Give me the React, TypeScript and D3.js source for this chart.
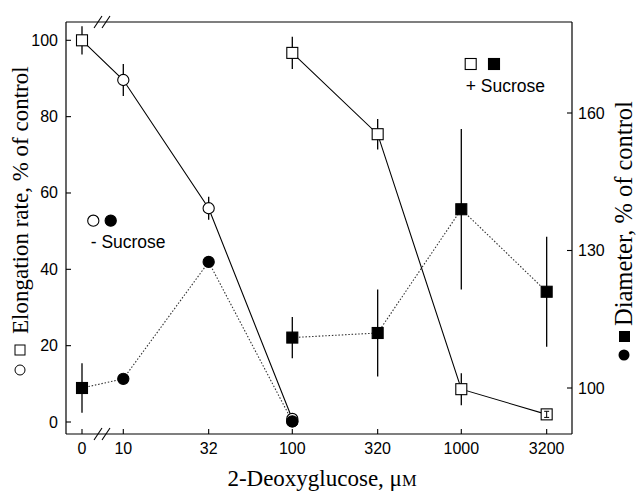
import React from "react";
import * as d3 from "d3";

// ---- data ----
const xTicks = [0, 10, 32, 100, 320, 1000, 3200];
const xTickLabels = ["0", "10", "32", "100", "320", "1000", "3200"];
const leftTicks = [0, 20, 40, 60, 80, 100];
const rightTicks = [100, 130, 160];

// Elongation rate (open symbols, solid line), left axis
const elongMinusX = [0, 10, 32, 100];
const elongMinusY = [100, 89.6, 56, 0.8];
const elongMinusErr = [3.7, 4.2, 3, 0];
const elongMinusShape = ["square", "circle", "circle", "circle"];

const elongPlusX = [100, 320, 1000, 3200];
const elongPlusY = [96.7, 75.4, 8.6, 2];
const elongPlusErr = [4.2, 4, 4.2, 0.8];
const elongPlusShape = ["square", "square", "square", "square"];

// Diameter (filled symbols, dotted line), right axis
const diamMinusX = [0, 10, 32, 100];
const diamMinusY = [100, 102, 127.5, 92.7];
const diamMinusErr = [5.4, 0, 0, 0];
const diamMinusShape = ["square", "circle", "circle", "circle"];

const diamPlusX = [100, 320, 1000, 3200];
const diamPlusY = [111, 112, 139, 121];
const diamPlusErr = [4.5, 9.5, 17.5, 12];
const diamPlusShape = ["square", "square", "square", "square"];

// ---- layout ----
const W = 637, H = 493;
const L = 66, R = 572, T = 22, B = 434;
const zeroX = 82;
const xLog = d3.scaleLog().domain([10, 100]).range([123.3, 292.3]);
const xPos = (v: number) => (v === 0 ? zeroX : xLog(v));
const yL = d3.scaleLinear().domain([0, 100]).range([422, 40.3]);
const yR = d3.scaleLinear().domain([100, 160]).range([388, 113]);

const sans = "'Liberation Sans', Arial, sans-serif";
const serif = "'Liberation Serif', 'Times New Roman', serif";
const SQ = 11;

function Marker({ shape, x, y, filled }: { shape: string; x: number; y: number; filled: boolean }) {
  const fill = filled ? "#000" : "#fff";
  if (shape === "square") {
    return <rect x={x - SQ / 2} y={y - SQ / 2} width={SQ} height={SQ} fill={fill} stroke="#000" strokeWidth={1.1} />;
  }
  return <circle cx={x} cy={y} r={5.6} fill={fill} stroke="#000" strokeWidth={1.1} />;
}

function Series({ xs, ys, errs, shapes, y, filled, dotted }: any) {
  const line = d3
    .line<number>()
    .x((_, i) => xPos(xs[i]))
    .y((d) => y(d));
  return (
    <g>
      <path
        d={line(ys) || ""}
        fill="none"
        stroke={dotted ? "#333" : "#000"}
        strokeWidth={1.1}
        strokeDasharray={dotted ? "1.5,1.8" : undefined}
      />
      {ys.map((v: number, i: number) =>
        errs[i] > 0 ? (
          <line key={"e" + i} x1={xPos(xs[i])} x2={xPos(xs[i])} y1={y(v - errs[i])} y2={y(v + errs[i])} stroke="#000" strokeWidth={1.3} />
        ) : null
      )}
      {ys.map((v: number, i: number) => (
        <Marker key={"m" + i} shape={shapes[i]} x={xPos(xs[i])} y={y(v)} filled={filled} />
      ))}
      {/* error bars shorter than the marker show inside it, with caps */}
      {ys.map((v: number, i: number) => {
        if (!(errs[i] > 0) || filled) return null;
        const y1 = y(v - errs[i]);
        const y2 = y(v + errs[i]);
        if (Math.abs(y1 - y2) / 2 >= SQ / 2) return null;
        const cx = xPos(xs[i]);
        return (
          <g key={"c" + i} stroke="#000" strokeWidth={1}>
            <line x1={cx} x2={cx} y1={y1} y2={y2} />
            <line x1={cx - 2.5} x2={cx + 2.5} y1={y1} y2={y1} />
            <line x1={cx - 2.5} x2={cx + 2.5} y1={y2} y2={y2} />
          </g>
        );
      })}
    </g>
  );
}

function BreakMark({ cx, cy }: { cx: number; cy: number }) {
  return (
    <g stroke="#000" strokeWidth={1.1}>
      <line x1={cx - 8} y1={cy + 6} x2={cx} y2={cy - 6} />
      <line x1={cx} y1={cy + 6} x2={cx + 8} y2={cy - 6} />
    </g>
  );
}

export default function App() {
  return (
    <svg width={W} height={H} style={{ position: "absolute", left: 0, top: 0, background: "#fff" }}>
      <rect width={W} height={H} fill="#fff" />
      {/* frame */}
      <g stroke="#000" strokeWidth={1.2} fill="none">
        <line x1={L} x2={R} y1={T} y2={T} />
        <line x1={L} x2={R} y1={B} y2={B} />
        <line x1={L} x2={L} y1={T} y2={B} />
        <line x1={R} x2={R} y1={T} y2={B} />
      </g>
      <BreakMark cx={102} cy={T} />
      <BreakMark cx={102} cy={B} />

      {/* left ticks */}
      {leftTicks.map((t) => (
        <g key={"l" + t}>
          <line x1={L} x2={L + 5} y1={yL(t)} y2={yL(t)} stroke="#000" strokeWidth={1.1} />
          <text x={L - 8} y={yL(t) + 5.5} textAnchor="end" fontFamily={sans} fontSize={16}>
            {t}
          </text>
        </g>
      ))}
      {/* right ticks */}
      {rightTicks.map((t) => (
        <g key={"r" + t}>
          <line x1={R - 5} x2={R} y1={yR(t)} y2={yR(t)} stroke="#000" strokeWidth={1.1} />
          <text x={R + 6} y={yR(t) + 5.5} textAnchor="start" fontFamily={sans} fontSize={16}>
            {t}
          </text>
        </g>
      ))}
      {/* bottom ticks */}
      {xTicks.map((t, i) => (
        <g key={"b" + t}>
          <line x1={xPos(t)} x2={xPos(t)} y1={B} y2={B - 5} stroke="#000" strokeWidth={1.1} />
          <text x={xPos(t)} y={454} textAnchor="middle" fontFamily={sans} fontSize={16}>
            {xTickLabels[i]}
          </text>
        </g>
      ))}

      {/* series: dotted (diameter) first */}
      <Series xs={diamMinusX} ys={diamMinusY} errs={diamMinusErr} shapes={diamMinusShape} y={yR} filled={true} dotted={true} />
      <Series xs={diamPlusX} ys={diamPlusY} errs={diamPlusErr} shapes={diamPlusShape} y={yR} filled={true} dotted={true} />
      <Series xs={elongMinusX} ys={elongMinusY} errs={elongMinusErr} shapes={elongMinusShape} y={yL} filled={false} dotted={false} />
      <Series xs={elongPlusX} ys={elongPlusY} errs={elongPlusErr} shapes={elongPlusShape} y={yL} filled={false} dotted={false} />
      {/* filled circle at 100 drawn over open circle */}
      <Marker shape="circle" x={xPos(100)} y={yR(diamMinusY[3])} filled={true} />

      {/* legends */}
      <Marker shape="circle" x={93.3} y={220.7} filled={false} />
      <Marker shape="circle" x={110.7} y={220.7} filled={true} />
      <text x={90.7} y={248} fontFamily={sans} fontSize={17.5}>- Sucrose</text>
      <Marker shape="square" x={470.7} y={64} filled={false} />
      <Marker shape="square" x={494} y={64} filled={true} />
      <text x={465.7} y={92} fontFamily={sans} fontSize={17.5}>+ Sucrose</text>

      {/* left title */}
      <circle cx={20} cy={370} r={5} fill="#fff" stroke="#000" strokeWidth={1} />
      <rect x={15} y={345} width={10} height={10} fill="#fff" stroke="#000" strokeWidth={1} />
      <text transform="translate(28,334) rotate(-90)" fontFamily={serif} fontSize={23} textAnchor="start">
        Elongation rate, % of control
      </text>

      {/* right title */}
      <circle cx={624} cy={355} r={5.5} fill="#000" />
      <rect x={619} y={331} width={11} height={11} fill="#000" />
      <text transform="translate(632,326) rotate(-90)" fontFamily={serif} fontSize={24.5} textAnchor="start">
        Diameter, % of control
      </text>

      {/* x title */}
      <text x={322} y={486} textAnchor="middle" fontFamily={serif} fontSize={23}>
        2-Deoxyglucose, μ<tspan fontSize={16.5}>M</tspan>
      </text>
    </svg>
  );
}
